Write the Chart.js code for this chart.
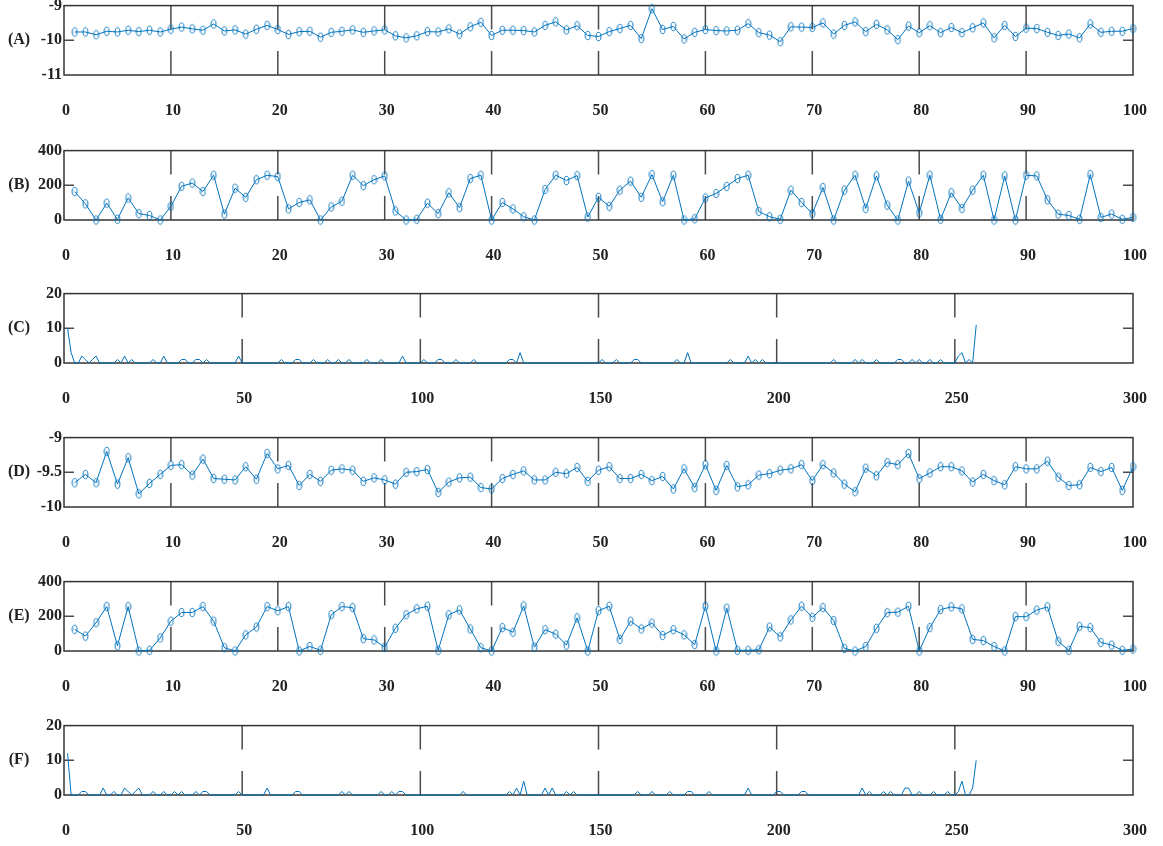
<!DOCTYPE html>
<html>
<head>
<meta charset="utf-8">
<title>Panels A-F</title>
<script src="https://cdn.jsdelivr.net/npm/chart.js"></script>
<style>
  body { margin: 0; background: #fff; }
  #wrap { position: relative; width: 1163px; height: 846px; overflow: hidden; }
  #wrap canvas { position: absolute; left: 0; }
</style>
</head>
<body>
<div id="wrap"></div>
<script>
// values, x = 1..n
const seriesA = [-9.76,-9.76,-9.84,-9.74,-9.76,-9.71,-9.75,-9.71,-9.76,-9.68,
  -9.62,-9.67,-9.71,-9.53,-9.73,-9.70,-9.82,-9.68,-9.57,-9.69,
  -9.83,-9.75,-9.74,-9.91,-9.77,-9.74,-9.70,-9.77,-9.73,-9.70,
  -9.87,-9.93,-9.87,-9.75,-9.76,-9.67,-9.82,-9.61,-9.48,-9.86,
  -9.71,-9.71,-9.72,-9.76,-9.57,-9.47,-9.70,-9.58,-9.86,-9.89,
  -9.75,-9.66,-9.57,-9.95,-9.09,-9.69,-9.60,-9.96,-9.77,-9.69,
  -9.72,-9.73,-9.71,-9.52,-9.78,-9.85,-10.04,-9.61,-9.62,-9.63,
  -9.50,-9.82,-9.57,-9.47,-9.75,-9.54,-9.70,-9.98,-9.59,-9.78,
  -9.58,-9.78,-9.63,-9.78,-9.64,-9.50,-9.93,-9.57,-9.89,-9.65,
  -9.66,-9.77,-9.86,-9.82,-9.93,-9.53,-9.77,-9.74,-9.74,-9.66];

const seriesB = [164,93,0,97,4,127,37,26,0,79,
  194,213,164,258,34,183,131,232,258,250,
  64,101,116,0,75,108,258,198,232,254,
  52,0,4,97,37,157,71,239,258,0,
  101,64,19,0,176,258,228,256,17,131,
  79,172,224,131,262,105,258,0,7,127,
  153,194,239,258,49,19,4,172,101,37,
  187,0,172,258,67,254,86,0,224,41,
  258,4,157,67,172,258,0,254,0,258,
  254,116,34,26,4,262,15,34,4,15];

const seriesC = [10,3,0,0,2,1,0,1,2,0, 0,0,0,0,1,0,2,0,1,0,
  0,0,0,0,1,0,0,2,0,0, 0,0,1,1,0,0,1,1,0,1,
  0,0,0,0,0,0,0,0,2,0, 0,0,0,0,0,0,0,0,0,0,
  1,0,0,0,1,1,0,0,0,1, 0,0,0,1,0,0,1,0,0,1,
  0,0,0,0,1,0,0,0,1,0, 0,0,0,0,2,0,0,0,0,0,
  1,0,0,0,1,1,0,0,0,1, 0,0,0,0,1,0,0,0,0,0,
  0,0,0,0,1,1,0,3,0,0, 0,0,0,0,0,0,0,0,0,0,
  0,0,0,0,0,0,0,0,0,0, 1,0,0,0,1,0,0,0,0,1,
  1,0,0,0,0,0,0,0,0,0, 0,1,0,0,3,0,0,0,0,0,
  0,0,0,0,0,0,1,0,0,0, 0,2,0,1,0,1,0,0,0,0,
  0,0,0,0,0,0,0,0,0,0, 0,0,0,0,0,1,0,0,0,0,
  0,1,0,1,0,0,0,1,0,0, 0,0,0,1,1,0,0,1,0,1,
  0,0,1,0,0,1,0,0,0,0, 2,3,0,1,0,11];

const seriesD = [-9.65,-9.53,-9.65,-9.20,-9.67,-9.29,-9.81,-9.66,-9.53,-9.40,
  -9.39,-9.54,-9.31,-9.59,-9.60,-9.61,-9.42,-9.60,-9.23,-9.45,
  -9.40,-9.69,-9.53,-9.63,-9.47,-9.45,-9.47,-9.63,-9.58,-9.61,
  -9.67,-9.50,-9.49,-9.46,-9.79,-9.64,-9.58,-9.57,-9.72,-9.74,
  -9.59,-9.53,-9.48,-9.61,-9.61,-9.50,-9.52,-9.43,-9.63,-9.47,
  -9.42,-9.59,-9.59,-9.53,-9.62,-9.56,-9.74,-9.45,-9.72,-9.39,
  -9.76,-9.40,-9.71,-9.68,-9.54,-9.52,-9.47,-9.45,-9.39,-9.62,
  -9.39,-9.51,-9.67,-9.78,-9.44,-9.55,-9.36,-9.39,-9.23,-9.59,
  -9.51,-9.42,-9.42,-9.48,-9.64,-9.53,-9.62,-9.68,-9.42,-9.45,
  -9.45,-9.34,-9.57,-9.69,-9.68,-9.43,-9.49,-9.43,-9.76,-9.42];

const seriesE = [125,86,163,256,30,256,0,4,75,172,
  222,222,256,172,19,0,93,138,256,232,
  256,0,26,4,209,256,250,71,64,22,
  131,209,243,258,4,209,237,127,19,0,
  135,108,260,22,123,97,34,191,0,232,
  258,67,172,127,161,90,123,93,37,258,
  0,247,4,4,7,138,82,179,258,194,
  250,176,15,0,26,131,221,224,258,0,
  135,239,254,243,67,60,26,0,198,198,
  236,254,56,4,142,135,49,34,4,11];

const seriesF = [12,0,0,0,1,1,0,0,0,0, 2,0,0,1,0,0,2,1,0,1,
  2,0,0,0,1,0,0,1,0,0, 1,0,1,0,0,0,1,0,1,1,
  0,0,0,0,0,0,0,0,1,0, 0,0,0,0,0,0,2,0,0,0,
  0,0,0,0,1,1,0,0,0,0, 0,0,0,0,0,0,0,1,0,1,
  0,0,0,0,0,0,0,0,1,0, 0,1,0,1,1,0,0,0,0,0,
  0,0,0,0,0,0,0,0,0,0, 0,1,0,0,0,0,0,0,0,0,
  0,0,0,0,1,0,2,0,4,0, 0,0,0,0,2,0,2,0,0,0,
  1,0,1,0,0,0,0,0,0,0, 0,0,0,0,0,0,0,0,0,0,
  1,0,0,0,1,0,0,0,0,1, 0,0,0,0,1,1,0,0,0,0,
  1,0,0,0,0,0,0,0,0,0, 0,2,0,0,0,0,0,0,0,1,
  1,0,0,0,0,0,1,1,0,0, 0,0,0,0,0,0,0,0,0,0,
  0,0,0,2,0,1,0,0,0,1, 0,1,0,0,0,2,2,0,0,1,
  0,0,0,1,0,0,0,1,0,0, 1,4,0,0,2,10];

const panelLabels = ['(A)', '(B)', '(C)', '(D)', '(E)', '(F)'];

const panels = [
  { data: seriesA, xMax: 100, xStep: 10, yMin: -11, yMax: -9, yStep: 1, top: 4, marker: true },
  { data: seriesB, xMax: 100, xStep: 10, yMin: 0, yMax: 400, yStep: 200, top: 149, marker: true },
  { data: seriesC, xMax: 300, xStep: 50, yMin: 0, yMax: 20, yStep: 10, top: 292, marker: false },
  { data: seriesD, xMax: 100, xStep: 10, yMin: -10, yMax: -9, yStep: 0.5, top: 436, marker: true },
  { data: seriesE, xMax: 100, xStep: 10, yMin: 0, yMax: 400, yStep: 200, top: 580, marker: true },
  { data: seriesF, xMax: 300, xStep: 50, yMin: 0, yMax: 20, yStep: 10, top: 724, marker: false }
];

const BLUE = '#0072BD';
const PAD_TOP = 10;
const AXIS_H = 50;
const BOX_H = 71;

// little upright ellipse, like the stretched 'o' marker
const marker = document.createElement('canvas');
marker.width = 7;
marker.height = 11;
const mctx = marker.getContext('2d');
mctx.strokeStyle = BLUE;
mctx.lineWidth = 1;
mctx.beginPath();
mctx.ellipse(3.5, 5.5, 2.4, 4.2, 0, 0, Math.PI * 2);
mctx.stroke();

// box with inward ticks, drawn under the data
const boxAxes = {
  id: 'boxAxes',
  beforeDatasetsDraw(chart) {
    const { ctx, chartArea: a, scales: { x, y } } = chart;
    const tx = 24, ty = 10;
    ctx.save();
    ctx.strokeStyle = '#4a4a4a';
    ctx.lineWidth = 1.5;
    ctx.beginPath();
    x.ticks.forEach(t => {
      const px = x.getPixelForValue(t.value);
      if (px <= a.left + 1 || px >= a.right - 1) return;
      ctx.moveTo(px, a.top); ctx.lineTo(px, a.top + tx);
      ctx.moveTo(px, a.bottom); ctx.lineTo(px, a.bottom - tx);
    });
    y.ticks.forEach(t => {
      const py = y.getPixelForValue(t.value);
      if (py <= a.top + 1 || py >= a.bottom - 1) return;
      ctx.moveTo(a.left, py); ctx.lineTo(a.left + ty, py);
      ctx.moveTo(a.right, py); ctx.lineTo(a.right - ty, py);
    });
    ctx.stroke();
    ctx.strokeStyle = '#333';
    ctx.strokeRect(a.left, a.top, a.right - a.left, a.bottom - a.top);
    ctx.restore();
  },
  afterDraw(chart, args, opts) {
    const { ctx, chartArea: a } = chart;
    ctx.save();
    ctx.font = 'bold 16px "Liberation Serif", "Times New Roman", serif';
    ctx.fillStyle = '#222';
    ctx.textAlign = 'center';
    ctx.textBaseline = 'middle';
    ctx.fillText(opts.label, 19, (a.top + a.bottom) / 2);
    ctx.restore();
  }
};

Chart.defaults.font.family = '"Liberation Serif", "Times New Roman", serif';
Chart.defaults.font.size = 16;
Chart.defaults.font.weight = 'bold';
Chart.defaults.color = '#222';

const wrap = document.getElementById('wrap');

panels.forEach((p, i) => {
  const canvas = document.createElement('canvas');
  canvas.width = 1163;
  canvas.height = PAD_TOP + BOX_H + AXIS_H;
  canvas.style.top = (p.top - PAD_TOP) + 'px';
  wrap.appendChild(canvas);

  new Chart(canvas, {
    type: 'line',
    data: {
      datasets: [{
        data: p.data.map((v, k) => ({ x: k + 1, y: v })),
        borderColor: BLUE,
        borderWidth: 1,
        tension: 0,
        pointStyle: p.marker ? marker : 'circle',
        pointRadius: p.marker ? 3 : 0,
        clip: false
      }]
    },
    options: {
      responsive: false,
      animation: false,
      events: [],
      layout: { padding: { top: PAD_TOP, right: 30, left: 0, bottom: 0 } },
      plugins: {
        legend: { display: false },
        tooltip: { enabled: false },
        boxAxes: { label: panelLabels[i] }
      },
      scales: {
        x: {
          type: 'linear',
          min: 0,
          max: p.xMax,
          // tick marks are hidden; their length only pushes the labels down
          grid: { display: false, drawTicks: true, tickLength: 26 },
          border: { display: false },
          ticks: { stepSize: p.xStep, padding: 0, labelOffset: 2, maxRotation: 0, autoSkip: false },
          afterFit(scale) { scale.height = AXIS_H; }
        },
        y: {
          min: p.yMin,
          max: p.yMax,
          grid: { display: false, drawTicks: false },
          border: { display: false },
          ticks: { stepSize: p.yStep, padding: 2, callback: v => String(v) },
          afterFit(scale) { scale.width = 64; }
        }
      }
    },
    plugins: [boxAxes]
  });
});
</script>
</body>
</html>
